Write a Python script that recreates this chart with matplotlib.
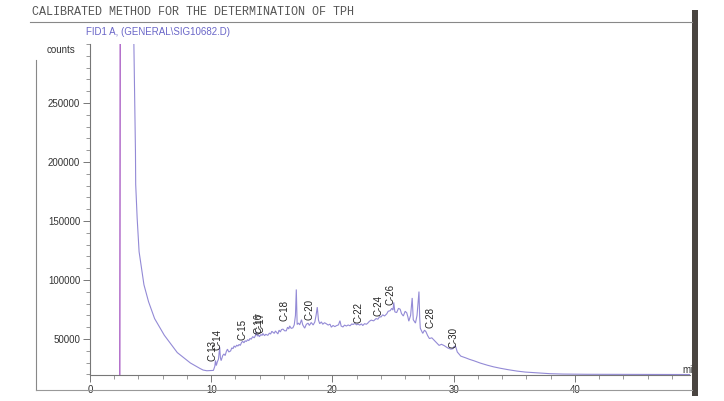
import matplotlib
matplotlib.use("Agg")
import matplotlib.pyplot as plt
from matplotlib.lines import Line2D
from matplotlib.patches import Rectangle
from matplotlib.ticker import MultipleLocator

W, H = 724, 401

# ---- data (retention time in min, signal in counts) ----
solvent_t = [2.46, 2.48, 2.50]
solvent_v = [19800, 200000, 400000]

trace_t = [2.50, 3.60, 3.62, 3.75, 3.77, 3.89, 4.05, 4.45, 4.83, 5.33, 6.13, 7.20, 8.28,
           9.08, 9.33, 9.64, 10.00,
           10.18, 10.30, 10.35, 10.42, 10.50, 10.60, 10.70, 10.76, 10.82, 10.95, 11.05, 11.15,
           11.25, 11.34, 11.45, 11.60, 11.70, 11.80, 11.89, 12.00, 12.10, 12.20, 12.30, 12.40,
           12.50, 12.59, 12.70, 12.80, 12.90, 13.00, 13.10, 13.20, 13.30, 13.42, 13.55, 13.65,
           13.71, 13.80, 13.90, 13.97, 14.10, 14.20, 14.26, 14.40, 14.50, 14.67, 14.80, 14.90,
           15.00, 15.08, 15.20, 15.30, 15.40, 15.50, 15.60, 15.70, 15.80, 15.92, 16.05, 16.19,
           16.30, 16.40, 16.47, 16.60, 16.74, 16.85, 16.95, 17.02, 17.09, 17.20, 17.30, 17.45,
           17.55, 17.71, 17.85, 17.99, 18.10, 18.25, 18.41, 18.55, 18.65, 18.75, 18.85, 18.95,
           19.09, 19.20, 19.35, 19.50, 19.65, 19.80, 19.91, 20.05, 20.20, 20.33, 20.50, 20.62,
           20.72, 20.87, 21.00, 21.15, 21.30, 21.45, 21.60, 21.70, 21.85, 22.00, 22.10, 22.25,
           22.40, 22.50, 22.65, 22.80, 22.90, 23.05, 23.20, 23.40, 23.60, 23.75, 23.90, 24.00,
           24.15, 24.30, 24.48, 24.60, 24.76, 24.90, 25.00, 25.06, 25.15, 25.30, 25.45, 25.59,
           25.70, 25.85, 26.00, 26.13, 26.22, 26.30, 26.45, 26.58, 26.67, 26.85, 26.98, 27.08,
           27.14, 27.20, 27.25, 27.35, 27.45, 27.60, 27.72, 27.85, 28.00, 28.20, 28.40, 28.60,
           28.80, 29.00, 29.22, 29.50, 29.77, 29.95, 30.05, 30.18, 30.30, 30.59, 31.00, 31.30,
           31.69, 32.20, 32.78, 33.30, 33.86, 34.50, 35.24, 35.90, 36.60, 37.30, 37.97, 39.00,
           41.00, 44.00, 47.00, 49.50]
trace_v = [400000, 400000, 300000, 209000, 181000, 152500, 124000, 96000, 81600, 67300, 53200, 38500, 29700,
           25000, 23700, 23100, 23300,
           23400, 27000, 31800, 27500, 30500, 33000, 43000, 34000, 31700, 36000, 37300, 36000,
           39500, 41400, 39000, 39900, 42500, 41800, 44100, 43000, 44800, 44000, 45400, 44600,
           47000, 48100, 46800, 48500, 47900, 49400, 48600, 50500, 49800, 52000, 51000, 53000,
           56200, 52500, 53500, 51900, 53800, 53000, 54700, 52800, 54000, 53100, 55000, 54200,
           56500, 55800, 54800, 56800, 55500, 54300, 57500, 56000, 58000, 58400, 57000, 56900,
           60000, 58500, 61100, 59000, 59500, 62000, 70000, 92000, 62300, 63500, 62000, 66400,
           62000, 59200, 62500, 63400, 61500, 64000, 61900, 64500, 70000, 77000, 66000, 63000,
           64500, 62500, 63800, 62900, 61800, 62600, 60000, 61500, 60500, 61300, 62000, 65500,
           61000, 60200, 61800, 61000, 61900, 61200, 62800, 62300, 63200, 62000, 62700, 61800,
           62800, 61400, 63000, 62500, 63300, 65000, 66000, 65400, 67300, 66800, 69000, 68600,
           70500, 69500, 71300, 73500, 74000, 76000, 74500, 81000, 73000, 72400, 76000, 75200,
           71500, 69500, 73500, 72200, 69000, 65100, 70000, 84800, 66300, 63500, 70000, 82000,
           90200, 68000, 59100, 57000, 54800, 57500, 56100, 53000, 50400, 51000, 48900, 46800,
           44600, 45500, 44400, 42500, 41400, 41800, 44000, 43200, 39000, 35500, 34000, 32800,
           31500, 29600, 27800, 26400, 25200, 24000, 22800, 22000, 21500, 21000, 20600, 20300,
           20100, 20000, 19900, 19900]

peak_labels = ["C-13", "C-14", "C-15", "C-16", "C-17", "C-18", "C-20", "C-22", "C-24", "C-26", "C-28", "C-30"]
peak_t = [10.08, 10.55, 12.6, 13.9, 14.05, 16.05, 18.1, 22.15, 23.8, 24.8, 28.1, 29.95]
peak_v = [31100, 40400, 49500, 54500, 55500, 65200, 66200, 63300, 69500, 79200, 59000, 42600]

x_ticks = [0, 10, 20, 30, 40]
y_ticks = [50000, 100000, 150000, 200000, 250000]

# ---- figure ----
fig = plt.figure(figsize=(W / 100, H / 100), dpi=100)
fig.patch.set_facecolor("white")

def fx(px):
    return px / W

def fy(py):
    return 1 - py / H

ax_l, ax_r, ax_t, ax_b = 90, 690, 44, 375
ax = fig.add_axes([fx(ax_l), fy(ax_b), (ax_r - ax_l) / W, (ax_b - ax_t) / H])
ax.set_xlim(0, 49.5)
ax.set_ylim(19500, 300000)

trace_col = "#938ad6"
ax.plot(trace_t, trace_v, color=trace_col, lw=0.8, solid_joinstyle="miter")
ax.plot(solvent_t, solvent_v, color="#a24fbf", lw=0.9)

for lab, t, v in zip(peak_labels, peak_t, peak_v):
    ax.text(t, v, lab, rotation=90, ha="center", va="bottom", fontsize=7,
            family="Liberation Sans", color="#222222")

for s in ["top", "right"]:
    ax.spines[s].set_visible(False)
for s in ["left", "bottom"]:
    ax.spines[s].set_color("#777777")
    ax.spines[s].set_linewidth(0.8)

ax.set_xticks(x_ticks)
ax.set_yticks(y_ticks)
ax.set_yticklabels([str(v) for v in y_ticks])
ax.xaxis.set_minor_locator(MultipleLocator(2))
ax.yaxis.set_minor_locator(MultipleLocator(10000))
ax.tick_params(axis="both", which="major", labelsize=7, colors="#777777", labelcolor="#333333",
               length=5, width=0.7, direction="out", pad=2)
ax.tick_params(axis="both", which="minor", colors="#888888", length=3, width=0.6, direction="out")
for lbl in ax.get_xticklabels() + ax.get_yticklabels():
    lbl.set_family("Liberation Sans")

# ---- page texts ----
fig.text(fx(32), fy(12), "CALIBRATED METHOD FOR THE DETERMINATION OF TPH", family="Liberation Mono",
         fontsize=8.5, color="#555555", ha="left", va="center")
fig.text(fx(86), fy(32), "FID1 A, (GENERAL\\SIG10682.D)", family="Liberation Sans",
         fontsize=7, color="#6a66c8", ha="left", va="center")
fig.text(fx(75), fy(50), "counts", family="Liberation Sans", fontsize=7, color="#333333",
         ha="right", va="center")
fig.text(fx(682), fy(370), "mi", family="Liberation Sans", fontsize=7, color="#333333",
         ha="left", va="center")

# page frame lines of the scanned printout
fig.add_artist(Line2D([fx(30), fx(692)], [fy(22), fy(22)], color="#888888", lw=0.8))
fig.add_artist(Line2D([fx(36), fx(36)], [fy(60), fy(390)], color="#888888", lw=0.8))
fig.add_artist(Line2D([fx(36), fx(692)], [fy(390), fy(390)], color="#999999", lw=0.8))

# dark scanner edge on the right
fig.add_artist(Rectangle((fx(692), fy(396)), 6 / W, 386 / H, transform=fig.transFigure,
                         facecolor="#4a4541", edgecolor="none"))

fig.savefig("out.png", dpi=100, facecolor="white")
